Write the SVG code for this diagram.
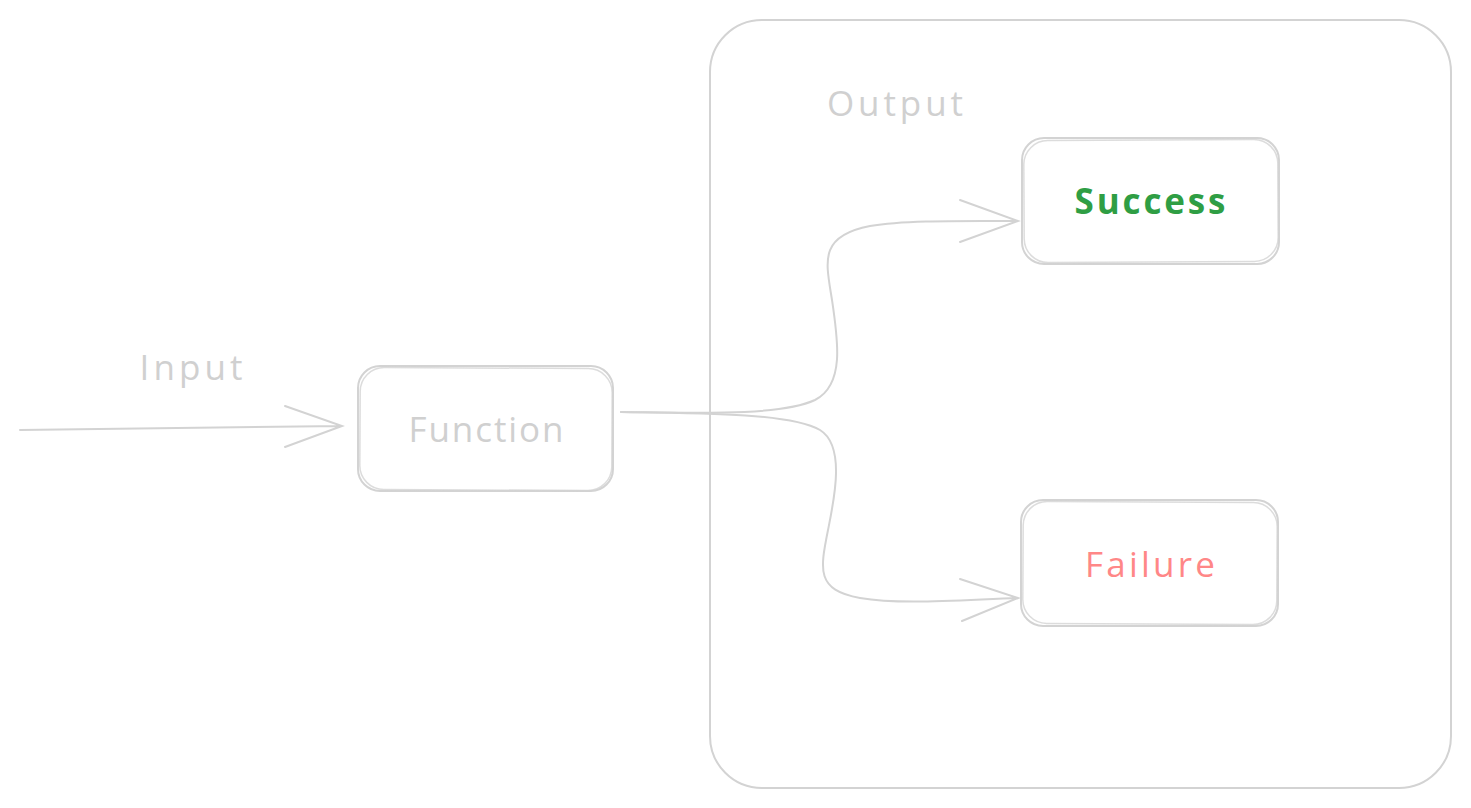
<svg xmlns="http://www.w3.org/2000/svg" width="1471" height="808" viewBox="0 0 1471 808">
<style>
.box{fill:none;stroke:#d3d3d3;stroke-width:2}
.sk{fill:none;stroke:#d3d3d3;stroke-width:1.5;opacity:0.8}
.con{fill:none;stroke:#d3d3d3;stroke-width:2;stroke-linecap:round}
.t{font-family:"Open Sans","Liberation Sans",sans-serif;font-size:35px;font-weight:500;text-anchor:middle;dominant-baseline:central}
.gray{fill:#d0d0d0}
.bold{font-weight:700}
</style>
<rect width="1471" height="808" fill="#ffffff"/>
<g id="output">
<rect class="box" x="710" y="20" width="741" height="768" rx="52"/>
<text class="t gray" x="895" y="102" textLength="136" lengthAdjust="spacing">Output</text>
</g>
<g id="input-label">
<text class="t gray" x="191" y="366" textLength="103" lengthAdjust="spacing">Input</text>
</g>
<g id="function">
<rect class="box" x="358" y="366" width="255" height="125" rx="22"/>
<rect class="sk" x="360" y="368" width="252" height="122" rx="24" transform="rotate(0.3 485 428)"/>
<text class="t gray" x="486" y="428" textLength="155" lengthAdjust="spacing">Function</text>
</g>
<g id="success">
<rect class="box" x="1022" y="138" width="257" height="126" rx="22"/>
<rect class="sk" x="1024" y="140" width="254" height="122" rx="24" transform="rotate(-0.3 1150 200)"/>
<text class="t bold" x="1150" y="200" fill="#2f9e44" textLength="151" lengthAdjust="spacing">Success</text>
</g>
<g id="failure">
<rect class="box" x="1021" y="500" width="257" height="126" rx="22"/>
<rect class="sk" x="1023" y="502" width="254" height="122" rx="24" transform="rotate(0.3 1150 563)"/>
<text class="t" x="1150" y="563" fill="#ff8787" textLength="130" lengthAdjust="spacing">Failure</text>
</g>
<g id="connectors">
<path class="con" d="M20,430 L342,426 M285,406 L342,426 L285,447"/>
<path class="con" d="M621,412 C700,413 780,416 815,400 C845,385 838,340 832,300 C826,262 818,236 870,226 C905,220 960,221 1018,221 M960,200 L1018,221 L960,242"/>
<path class="con" d="M621,412 C700,413 790,413 820,430 C846,446 834,500 828,530 C820,570 816,590 860,598 C900,605 960,600 1018,598 M960,579 L1018,598 L962,621"/>
</g>
</svg>
